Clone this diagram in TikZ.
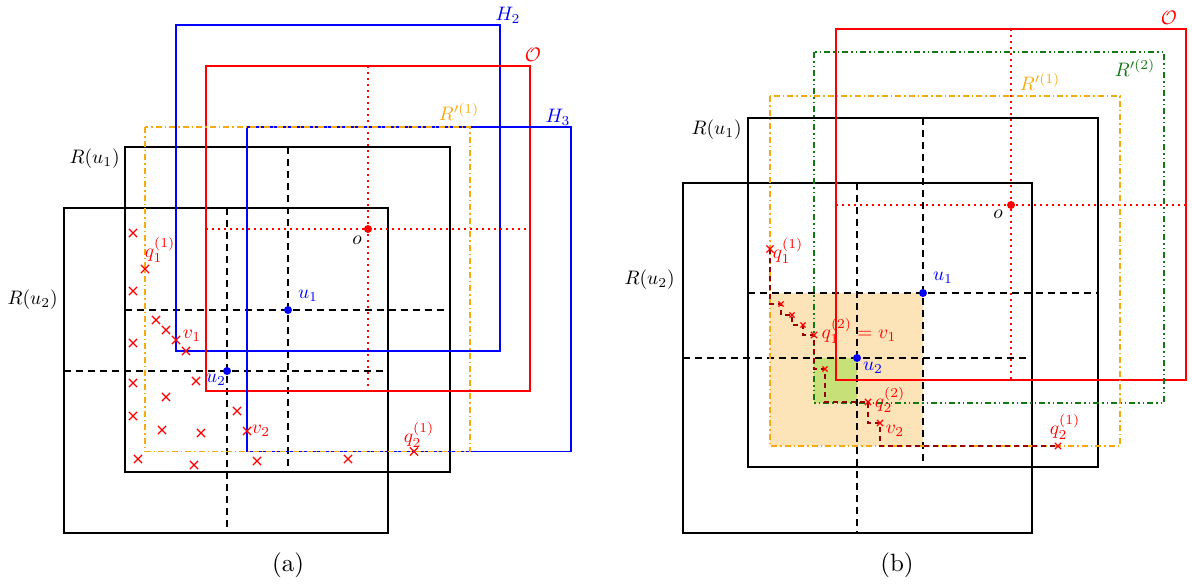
\documentclass[tikz,border=0pt]{standalone}
\usetikzlibrary{shapes.misc}
\definecolor{myorange}{RGB}{245,170,20}
\definecolor{fillorange}{RGB}{253,228,184}
\definecolor{fillgreen}{RGB}{200,224,120}
\definecolor{mygreen}{RGB}{20,120,20}
\definecolor{darkred}{RGB}{150,0,0}
\begin{document}
\begin{tikzpicture}[x=1pt,y=-1pt,
  box/.style={line width=1.5pt},
  cdash/.style={line width=1.5pt, dash pattern=on 7pt off 5pt},
  reddot/.style={red, line width=1.7pt, dash pattern=on 1.7pt off 4.3pt},
  orangebox/.style={myorange, line width=1.5pt, dash pattern=on 6pt off 3pt on 1.5pt off 3pt},
  greenbox/.style={mygreen, line width=1.5pt, dash pattern=on 6pt off 3pt on 1.5pt off 3pt on 1.5pt off 3pt},
  xmark/.style={cross out, draw=red, line width=1.2pt, minimum size=7pt, inner sep=0pt},
  smallx/.style={cross out, draw=red, line width=1.2pt, minimum size=5pt, inner sep=0pt},
  pdot/.style={circle, fill=#1, inner sep=0pt, minimum size=8pt},
  lab/.style={scale=1.95, inner sep=0pt},
  caplab/.style={scale=2.5, inner sep=0pt},
  stair/.style={darkred, line width=1.4pt, dash pattern=on 5pt off 4pt}
]
\useasboundingbox (0,0) rectangle (1192,584);

% ================= panel (a) =================
\draw[box] (64,208) rectangle (388,533);
\draw[box] (125,147) rectangle (450,472);
\draw[cdash] (125,310) -- (450,310) (288,147) -- (288,472);
\draw[cdash] (64,371) -- (388,371) (227,208) -- (227,533);
\draw[box, blue] (176,25) rectangle (500,351);
\draw[box, red] (206,66) rectangle (530,391);
\draw[reddot] (206,229) -- (530,229) (368,66) -- (368,391);
\draw[box, blue] (247,127) rectangle (571,451.5);
\draw[orangebox] (145,127) rectangle (470,451.5);

\foreach \p [count=\i] in {(133,233),(145,269),(133,291),(156,320),(166,330),(176,340),(186,351),(133,343),(196,381),(133,383),(166,397),(133,416),(162,430),(201,433),(237,411),(247,431),(138,459),(194,465),(257,461),(348,459),(414,451.5)}
  \node[xmark] (xa\i) at \p {};

\node[pdot=blue] (ua1) at (288,310) {};
\node[pdot=blue] (ua2) at (227,371) {};
\node[pdot=red] (oa) at (368,229) {};

\node[lab, anchor=east] (Ru1a) at (120,159) {$R(u_1)$};
\node[lab, anchor=east] (Ru2a) at (58,300) {$R(u_2)$};
\node[lab, blue] (H2) at (508,15) {$H_2$};
\node[lab, red] (Oa) at (533,55) {$\mathcal{O}$};
\node[lab, myorange] (R1a) at (459,112) {$R'^{(1)}$};
\node[lab, blue] (H3) at (558,117) {$H_3$};
\node[lab, blue] (lu1a) at (308,296) {$u_1$};
\node[lab] (loa) at (357,240) {$o$};
\node[lab, red] (lq11a) at (160,250) {$q_1^{(1)}$};
\node[lab, red] (lv1a) at (192,336) {$v_1$};
\node[lab, blue] (lu2a) at (216,380) {$u_2$};
\node[lab, red] (lv2a) at (261,431) {$v_2$};
\node[lab, red] (lq21a) at (419,435) {$q_2^{(1)}$};
\node[caplab] (capa) at (288,565) {(a)};

% ================= panel (b) =================
\fill[fillorange] (770,293) rectangle (923,446);
\fill[fillgreen] (814,358) rectangle (857,403);
\draw[box] (683,183) rectangle (1032,533);
\draw[box] (748,118) rectangle (1098,467);
\draw[cdash] (748,293) -- (1098,293) (923,118) -- (923,467);
\draw[cdash] (683,358) -- (1032,358) (857,183) -- (857,533);
\draw[box, red] (836,29) rectangle (1186,380);
\draw[reddot] (836,205) -- (1186,205) (1011,29) -- (1011,380);
\draw[greenbox] (814,52) rectangle (1164,403);
\draw[orangebox] (770,96) rectangle (1120,446);

\coordinate (s0) at (770,249);
\coordinate (s1) at (781,304);
\coordinate (s2) at (792,315);
\coordinate (s3) at (803,325);
\coordinate (s4) at (814,335);
\coordinate (s5) at (825,369);
\coordinate (s6) at (868,402);
\coordinate (s7) at (880,423);
\coordinate (s8) at (1058,446);
\draw[stair] (s0) |- (s1) |- (s2) |- (s3) |- (s4) |- (s5) |- (s6) |- (s7) |- (s8);

\node[smallx, minimum size=6pt] (xq11) at (s0) {};
\node[smallx, minimum size=4pt] (xb1) at (s1) {};
\node[smallx, minimum size=4pt] (xb2) at (s2) {};
\node[smallx, minimum size=4pt] (xb3) at (s3) {};
\node[smallx] (xq12) at (s4) {};
\node[smallx, minimum size=4pt] (xb5) at (s5) {};
\node[smallx] (xq22) at (s6) {};
\node[smallx] (xv2) at (s7) {};
\node[smallx] (xq21) at (s8) {};

\node[pdot=blue] (ub1) at (923,293) {};
\node[pdot=blue] (ub2) at (857,358) {};
\node[pdot=red] (ob) at (1011,205) {};

\node[lab, red] (Ob) at (1169,18) {$\mathcal{O}$};
\node[lab, mygreen] (R2b) at (1135,68) {$R'^{(2)}$};
\node[lab, myorange] (R1b) at (1040,82) {$R'^{(1)}$};
\node[lab, anchor=east] (Ru1b) at (742,130) {$R(u_1)$};
\node[lab, anchor=east] (Ru2b) at (675,280) {$R(u_2)$};
\node[lab, blue] (lu1b) at (943,278) {$u_1$};
\node[lab] (lob) at (998,214) {$o$};
\node[lab, red] (lq11b) at (788,251) {$q_1^{(1)}$};
\node[lab, red] (lq12b) at (859,331) {$q_1^{(2)} = v_1$};
\node[lab, blue] (lu2b) at (873,368) {$u_2$};
\node[lab, red] (lq22b) at (890,400) {$q_2^{(2)}$};
\node[lab, red] (lv2b) at (895,431) {$v_2$};
\node[lab, red] (lq21b) at (1065,427) {$q_2^{(1)}$};
\node[caplab] (capb) at (897,565) {(b)};
\end{tikzpicture}
\end{document}
